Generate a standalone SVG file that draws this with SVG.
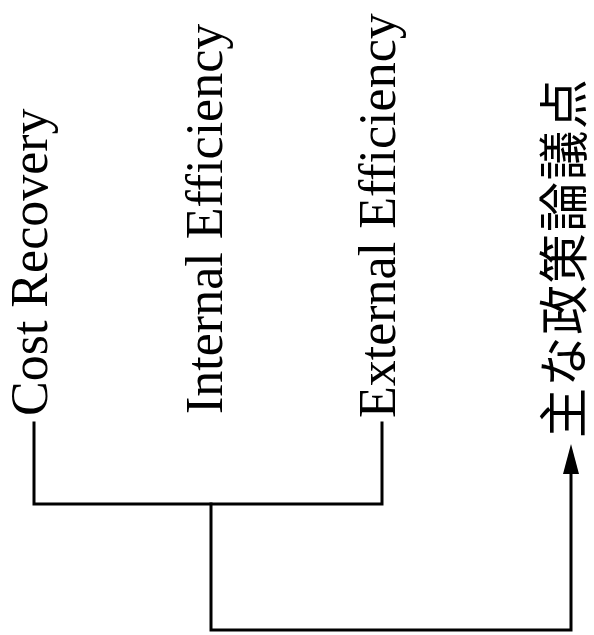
<svg xmlns="http://www.w3.org/2000/svg" width="594" height="635" viewBox="0 0 594 635">
<style>
.lbl{font-family:"Liberation Serif","Times New Roman",serif;font-size:52px;fill:#000}
.jp{font-family:"Noto Sans CJK JP","Noto Sans CJK SC",sans-serif;font-size:50px;letter-spacing:1.5px;fill:#000}
.ln{fill:none;stroke:#000;stroke-width:3;stroke-linecap:square;stroke-linejoin:miter}
</style>
<rect width="594" height="635" fill="#fff"/>
<g id="cost-recovery"><text class="lbl" transform="translate(47,416) rotate(-90)">Cost Recovery</text></g>
<g id="internal-efficiency"><text class="lbl" transform="translate(222,414) rotate(-90)">Internal Efficiency</text></g>
<g id="external-efficiency"><text class="lbl" transform="translate(395,418) rotate(-90)">External Efficiency</text></g>
<g id="policy-issues"><text class="jp" transform="translate(582,438) rotate(-90)">主な政策論議点</text></g>
<g id="connectors">
<polyline class="ln" points="34,423 34,504 382,504 382,423"/>
<polyline class="ln" points="211,504 211,630 571,630 571,472"/>
<polygon points="571,444 563,474 579,474" fill="#000"/>
</g>
</svg>
